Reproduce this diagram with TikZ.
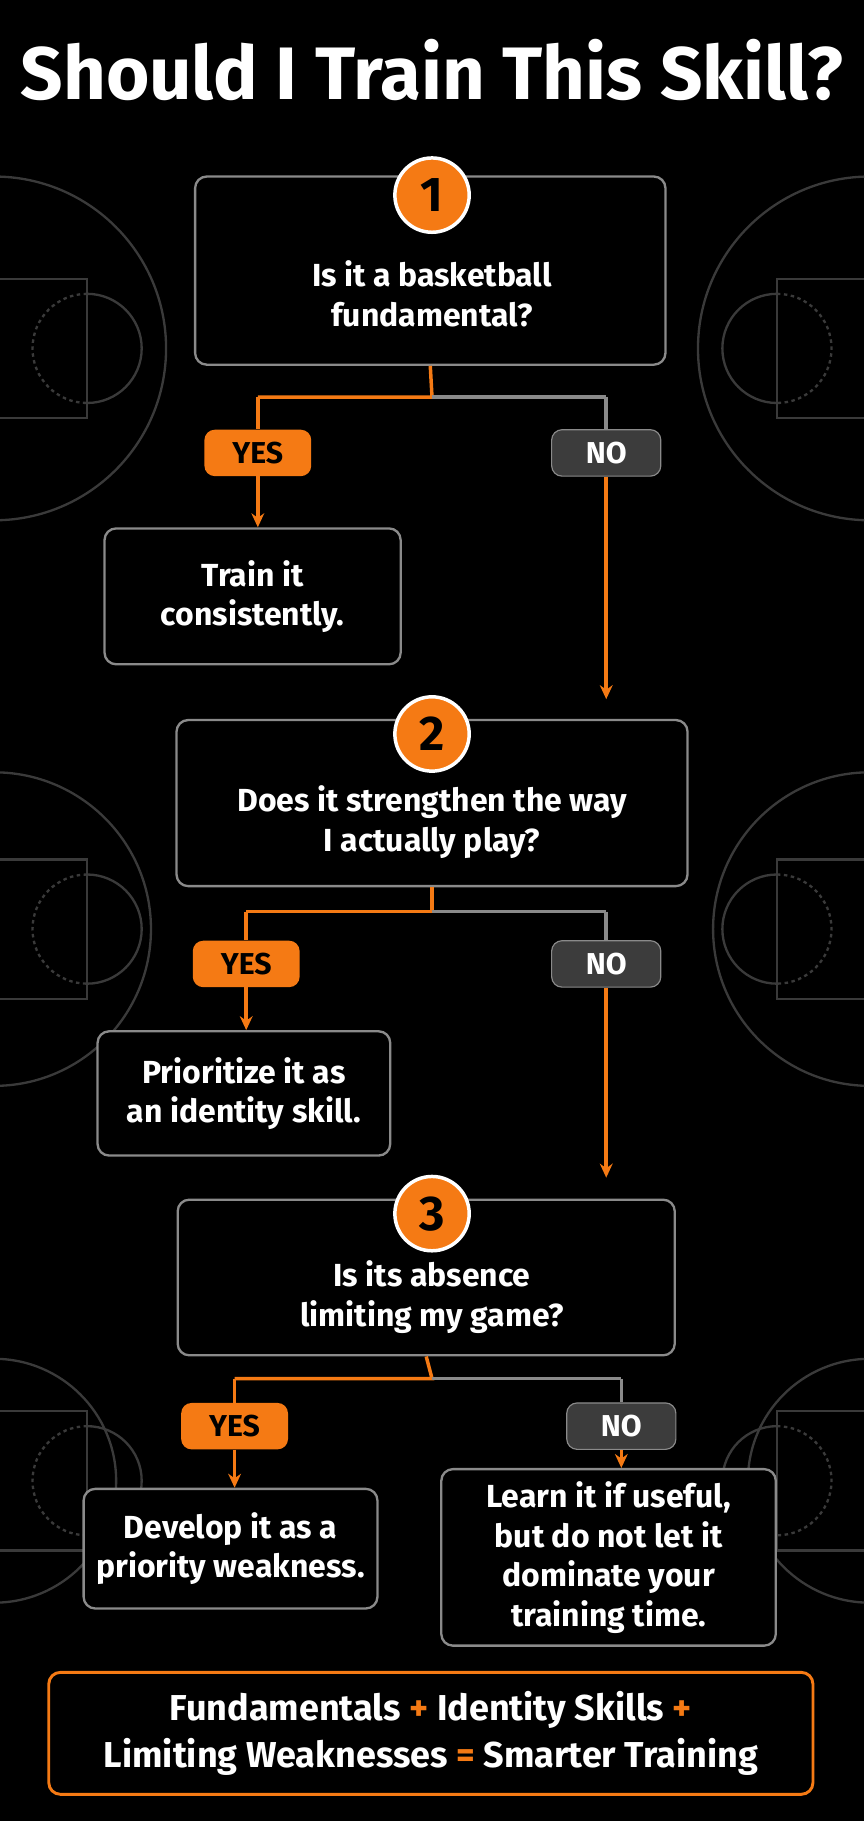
\documentclass[tikz,border=0pt]{standalone}
\usepackage{fontspec}
\setmainfont{Fira Sans}
\usetikzlibrary{arrows.meta}
\definecolor{org}{HTML}{F57A14}
\definecolor{bx}{HTML}{8A8A8A}
\definecolor{court}{HTML}{3A3A3A}
\definecolor{pill}{HTML}{3C3C3C}
\begin{document}
\begin{tikzpicture}[x=1pt,y=-1pt,
 box/.style={draw=bx,line width=2pt,rounded corners=10pt,fill=black},
 txt/.style={text=white,align=center,font=\fontsize{27.5}{34}\selectfont\bfseries},
 num/.style={circle,fill=org,draw=white,line width=3pt,minimum size=64pt,inner sep=0pt,font=\fontsize{42}{42}\selectfont\bfseries,text=black},
 yes/.style={rounded corners=9pt,fill=org,text=black,minimum width=92pt,minimum height=40pt,font=\fontsize{26}{26}\selectfont\bfseries},
 no/.style={rounded corners=9pt,fill=pill,draw=bx,line width=1pt,text=white,minimum width=94pt,minimum height=40pt,font=\fontsize{26}{26}\selectfont\bfseries},
 ol/.style={org,line width=3pt},
 gl/.style={bx,line width=3pt},
 oa/.style={ol,-{Stealth[length=12pt,width=11pt]}},
 cl/.style={court,line width=2pt}]
\fill[black] (0,0) rectangle (744,1568);
\useasboundingbox (0,0) rectangle (744,1568);
% court lines
\begin{scope}
\clip (0,0) rectangle (744,1568);
\foreach \y/\r in {300/148,800/135,1275/105}{
 \draw[cl] (-5,\y) circle (\r);
 \draw[cl] (749,\y) circle (\r);
 \draw[cl] (0,\y-60) -- (75,\y-60) -- (75,\y+60) -- (0,\y+60);
 \draw[cl] (744,\y-60) -- (669,\y-60) -- (669,\y+60) -- (744,\y+60);
 \draw[cl] (75,\y-47) arc (-90:90:47);
 \draw[cl] (669,\y-47) arc (270:90:47);
 \draw[cl,dashed] (75,\y-47) arc (270:90:47);
 \draw[cl,dashed] (669,\y-47) arc (-90:90:47);
}
\end{scope}
\node[text=white,font=\fontsize{64}{66}\selectfont\bfseries] (title) at (372,60) {Should I Train This Skill?};
% box 1
\node[box,minimum width=405pt,minimum height=162pt] (b1) at (370.5,233) {};
\node[txt] (t1) at (372,253) {Is it a basketball\\fundamental?};
\node[num] (n1) at (372,168) {1};
\coordinate (j1) at (372,342);
\coordinate (l1) at (222,342);
\coordinate (r1) at (522,342);
\node[box,minimum width=255pt,minimum height=117pt] (a1) at (217.5,513.5) {};
\node[txt] at (a1) {Train it\\consistently.};
\node[box,minimum width=440pt,minimum height=143pt] (b2) at (372,691.5) {};
\draw[ol] (b1.south) -- (j1) -- (l1);
\draw[gl] (j1) -- (r1);
\node[yes] (y1) at (222,390) {YES};
\node[no] (no1) at (522,390) {NO};
\draw[ol] (l1) -- (y1);
\draw[oa] (y1) -- (a1.north -| y1);
\draw[gl] (r1) -- (no1);
\draw[oa] (no1) -- (522,602);
% box 2
\node[txt] (t2) at (372,708) {Does it strengthen the way\\I actually play?};
\node[num] (n2) at (372,632) {2};
\coordinate (j2) at (372,785);
\coordinate (l2) at (212,785);
\coordinate (r2) at (522,785);
\node[box,minimum width=252pt,minimum height=107pt] (a2) at (210,941.5) {};
\node[txt] at (a2) {Prioritize it as\\an identity skill.};
\node[box,minimum width=428pt,minimum height=134pt] (b3) at (367,1100) {};
\draw[ol] (b2.south) -- (j2) -- (l2);
\draw[gl] (j2) -- (r2);
\node[yes] (y2) at (212,830) {YES};
\node[no] (no2) at (522,830) {NO};
\draw[ol] (l2) -- (y2);
\draw[oa] (y2) -- (a2.north -| y2);
\draw[gl] (r2) -- (no2);
\draw[oa] (no2) -- (522,1014);
% box 3
\node[txt] (t3) at (372,1117) {Is its absence\\limiting my game?};
\node[num] (n3) at (372,1045) {3};
\coordinate (j3) at (372,1187);
\coordinate (l3) at (202,1187);
\coordinate (r3) at (535,1187);
\node[box,minimum width=253pt,minimum height=103pt] (a3) at (198.5,1333.5) {};
\node[txt] at (a3) {Develop it as a\\priority weakness.};
\node[box,minimum width=288pt,minimum height=152pt] (a4) at (524,1341) {};
\node[txt] at (a4) {Learn it if useful,\\but do not let it\\dominate your\\training time.};
\draw[ol] (b3.south) -- (j3) -- (l3);
\draw[gl] (j3) -- (r3);
\node[yes] (y3) at (202,1228) {YES};
\node[no] (no3) at (535,1228) {NO};
\draw[ol] (l3) -- (y3);
\draw[oa] (y3) -- (a3.north -| y3);
\draw[gl] (r3) -- (no3);
\draw[oa] (no3) -- (a4.north -| no3);
% bottom
\node[draw=org,line width=2.5pt,rounded corners=10pt,fill=black,minimum width=658pt,minimum height=105pt] (sum) at (371,1492.5) {};
\node[txt,font=\fontsize{31}{40}\selectfont\bfseries] at (sum) {Fundamentals {\color{org}+} Identity Skills {\color{org}+}\\Limiting Weaknesses {\color{org}=} Smarter Training};
\end{tikzpicture}
\end{document}
